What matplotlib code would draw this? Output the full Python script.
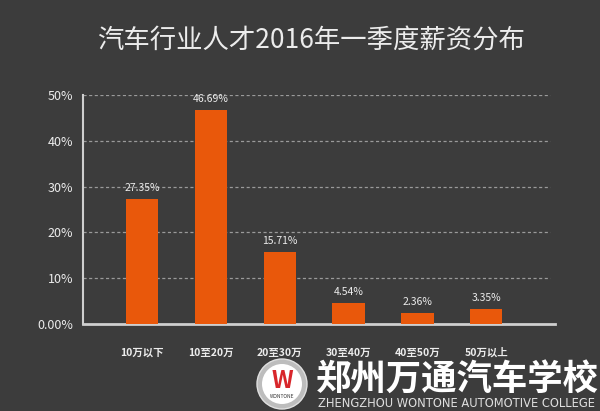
import matplotlib
matplotlib.use('Agg')
import matplotlib.pyplot as plt
from matplotlib.patches import Circle

plt.rcParams['font.family'] = ['Noto Sans CJK SC', 'DejaVu Sans']

# data
categories = ['10万以下', '10至20万', '20至30万', '30至40万', '40至50万', '50万以上']
share = [27.35, 46.69, 15.71, 4.54, 2.36, 3.35]
yticks = [0, 10, 20, 30, 40, 50]
ytick_labels = ['0.00%', '10%', '20%', '30%', '40%', '50%']
title = '汽车行业人才2016年一季度薪资分布'

bg = '#3c3c3c'
orange = '#e9580b'
light = '#ececec'

fig = plt.figure(figsize=(6, 4.11), dpi=100, facecolor=bg)
ax = fig.add_axes([0.1383, 0.2117, 0.7867, 0.5572], facecolor=bg)

x = range(len(categories))
bars = ax.bar(x, share, width=0.47, color=orange, zorder=3)
for b, v in zip(bars, share):
    ax.text(b.get_x() + b.get_width() / 2, v + 1.3, '{:.2f}%'.format(v),
            ha='center', va='bottom', fontsize=7.5, color=light)

ax.set_xlim(-0.86, 6.0)
ax.set_ylim(0, 50)
ax.set_yticks(yticks)
ax.set_yticklabels(ytick_labels)
ax.set_xticks(list(x))
ax.set_xticklabels(categories)
ax.tick_params(axis='y', length=0, pad=7, labelsize=9, labelcolor=light)
ax.tick_params(axis='x', length=0, pad=17, labelsize=7.5, labelcolor=light)
for lbl in ax.get_xticklabels():
    lbl.set_fontweight('bold')

for y in yticks[1:]:
    ax.plot([-0.86, 5.93], [y, y], ls=(0, (2.5, 2)), lw=0.9, color='#9a9a9a', zorder=1)

for s in ['top', 'right']:
    ax.spines[s].set_visible(False)
ax.spines['left'].set_color('#cfcfcf')
ax.spines['bottom'].set_color('#cfcfcf')
ax.spines['left'].set_linewidth(1.5)
ax.spines['bottom'].set_linewidth(2)

fig.text(0.518, 0.903, title, ha='center', va='center', fontsize=19, color=light)

# watermark logo
logo = fig.add_axes([0, 0, 1, 1], facecolor='none')
logo.set_xlim(0, 600)
logo.set_ylim(411, 0)
logo.axis('off')
logo.add_patch(Circle((282, 384), 25, facecolor='#bdbdbd', edgecolor='#e0e0e0', lw=1))
logo.add_patch(Circle((282, 384), 20, facecolor='white', edgecolor='none'))
logo.text(282, 381, 'W', ha='center', va='center', fontsize=17, fontweight='bold',
          color='#d8262b')
logo.text(282, 396, 'WONTONE', ha='center', va='center', fontsize=3.5, color='#333333')
logo.text(316, 380, '郑州万通汽车学校', ha='left', va='center', fontsize=25.5,
          fontweight='bold', color='white')
logo.text(318, 403, 'ZHENGZHOU WONTONE AUTOMOTIVE COLLEGE', ha='left', va='center',
          fontsize=8.3, color='#e0e0e0', family='DejaVu Sans')

fig.savefig('out.png', dpi=100, facecolor=bg)
